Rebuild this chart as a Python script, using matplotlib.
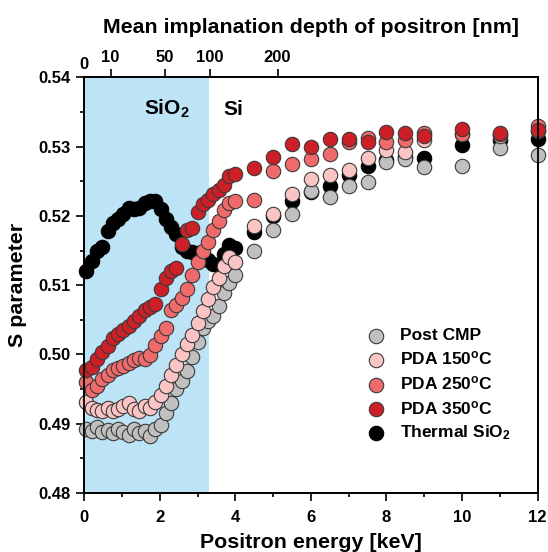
import matplotlib
matplotlib.use("Agg")
import matplotlib.pyplot as plt
import numpy as np

plt.rcParams['font.family'] = ['Liberation Sans', 'DejaVu Sans']
plt.rcParams['font.weight'] = 'bold'
plt.rcParams['mathtext.default'] = 'regular'

# ---------------- data ----------------
energy_low = [0.06, 0.20, 0.34, 0.48, 0.62, 0.76, 0.90, 1.04, 1.18, 1.32, 1.46, 1.60,
              1.74, 1.88, 2.02, 2.16, 2.30, 2.44, 2.58, 2.72, 2.86, 3.00, 3.14, 3.28,
              3.42, 3.56, 3.70, 3.84, 3.98]
energy_high = [4.5, 5.0, 5.5, 6.0, 6.5, 7.0, 7.5, 8.0, 8.5, 9.0, 10.0, 11.0, 12.0]

post_cmp_low = [0.4893, 0.4890, 0.4895, 0.4888, 0.4891, 0.4886, 0.4893, 0.4888, 0.4884, 0.4892,
                0.4886, 0.4890, 0.4882, 0.4893, 0.4898, 0.4915, 0.4930, 0.4950, 0.4962, 0.4976,
                0.4997, 0.5018, 0.5038, 0.5048, 0.5056, 0.5070, 0.5088, 0.5103, 0.5115]
post_cmp_high = [0.5150, 0.5180, 0.5202, 0.5236, 0.5227, 0.5243, 0.5249, 0.5278, 0.5282,
                 0.5271, 0.5272, 0.5298, 0.5288]

pda150_low = [0.4932, 0.4923, 0.4920, 0.4918, 0.4922, 0.4919, 0.4921, 0.4926, 0.4930, 0.4921,
              0.4919, 0.4926, 0.4922, 0.4932, 0.4942, 0.4955, 0.4970, 0.4985, 0.5000, 0.5015,
              0.5028, 0.5045, 0.5062, 0.5080, 0.5097, 0.5110, 0.5127, 0.5140, 0.5133]
pda150_high = [0.5185, 0.5203, 0.5231, 0.5253, 0.5259, 0.5266, 0.5283, 0.5295, 0.5292,
               0.5309, 0.5318, 0.5315, 0.5322]

pda250_low = [0.4960, 0.4948, 0.4955, 0.4965, 0.4971, 0.4977, 0.4980, 0.4983, 0.4987, 0.4992,
              0.4995, 0.4994, 0.4999, 0.5014, 0.5027, 0.5038, 0.5064, 0.5072, 0.5082, 0.5094,
              0.5114, 0.5134, 0.5150, 0.5163, 0.5180, 0.5192, 0.5208, 0.5218, 0.5221]
pda250_high = [0.5223, 0.5265, 0.5275, 0.5282, 0.5290, 0.5307, 0.5313, 0.5306, 0.5310,
               0.5319, 0.5318, 0.5318, 0.5329]

pda350_low = [0.4978, 0.4982, 0.4993, 0.5004, 0.5012, 0.5023, 0.5030, 0.5035, 0.5041, 0.5048,
              0.5056, 0.5064, 0.5069, 0.5073, 0.5094, 0.5110, 0.5121, 0.5125, 0.5160, 0.5180,
              0.5183, 0.5206, 0.5217, 0.5223, 0.5231, 0.5237, 0.5245, 0.5258, 0.5261]
pda350_high = [0.5269, 0.5285, 0.5304, 0.5300, 0.5311, 0.5311, 0.5306, 0.5321, 0.5319,
               0.5315, 0.5325, 0.5320, 0.5324]

thermal_low = [0.5120, 0.5135, 0.5150, 0.5155, 0.5178, 0.5190, 0.5196, 0.5203, 0.5212, 0.5210,
               0.5212, 0.5219, 0.5222, 0.5221, 0.5210, 0.5195, 0.5184, 0.5174, 0.5155, 0.5150,
               0.5148, 0.5147, 0.5145, 0.5137, 0.5131, 0.5129, 0.5145, 0.5158, 0.5153]
thermal_high = [0.5176, 0.5200, 0.5221, 0.5234, 0.5243, 0.5259, 0.5272, 0.5280, 0.5285,
                0.5284, 0.5302, 0.5310, 0.5311]

depth_tick_energy = [0.70, 2.14, 3.32, 5.12]
depth_tick_labels = ['10', '50', '100', '200']
sio2_boundary = 3.3

# ---------------- figure ----------------
fig = plt.figure(figsize=(5.48, 5.52), dpi=100)
ax = fig.add_axes([84.2 / 548, 59 / 552, 453.3 / 548, 415.7 / 552])

ax.axvspan(0, sio2_boundary, color='#bce3f6', lw=0, zorder=0)

series = [
    ('Thermal SiO$_2$', thermal_low + thermal_high, '#000000', '#000000'),
    ('Post CMP', post_cmp_low + post_cmp_high, '#c0c0c0', '#3a3a3a'),
    ('PDA 150$^o$C', pda150_low + pda150_high, '#fbc4c4', '#3a3a3a'),
    ('PDA 250$^o$C', pda250_low + pda250_high, '#ef6a6a', '#3a3a3a'),
    ('PDA 350$^o$C', pda350_low + pda350_high, '#cc1f27', '#3a3a3a'),
]
E = energy_low + energy_high
handles = {}
for i, (lab, vals, fc, ec) in enumerate(series):
    h = ax.scatter(E, vals, s=108, facecolor=fc, edgecolor=ec, linewidth=0.8,
                   zorder=2 + i, label=lab, clip_on=False)
    handles[lab] = h

order = ['Post CMP', 'PDA 150$^o$C', 'PDA 250$^o$C', 'PDA 350$^o$C', 'Thermal SiO$_2$']
leg = ax.legend([handles[k] for k in order], order, loc='upper left',
                bbox_to_anchor=(0.625, 0.397), frameon=False, fontsize=12.5,
                handlelength=1.0, handletextpad=0.85, labelspacing=0.38,
                borderaxespad=0, borderpad=0)

ax.set_xlim(0, 12)
ax.set_ylim(0.48, 0.54)
ax.set_xticks([0, 2, 4, 6, 8, 10, 12])
ax.set_xticks([1, 3, 5, 7, 9, 11], minor=True)
ax.set_yticks([0.48, 0.49, 0.50, 0.51, 0.52, 0.53, 0.54])
ax.set_yticks(np.arange(0.485, 0.54, 0.01), minor=True)
ax.set_yticklabels(['0.48', '0.49', '0.50', '0.51', '0.52', '0.53', '0.54'])
ax.tick_params(axis='both', which='major', direction='out', length=6, width=1.2,
               labelsize=12, pad=4)
ax.tick_params(axis='both', which='minor', direction='out', length=3, width=1.2)
ax.tick_params(axis='x', which='major', pad=6)
for sp in ax.spines.values():
    sp.set_linewidth(1.3)

ax.set_xlabel('Positron energy [keV]', fontsize=15.4, fontweight='bold', labelpad=6)
ax.set_ylabel('S parameter', fontsize=15.4, fontweight='bold', labelpad=8)

ax.text(1.59, 0.5346, 'SiO$_2$', fontsize=15, fontweight='bold', va='baseline')
ax.text(3.69, 0.5346, 'Si', fontsize=15, fontweight='bold', va='baseline')

ax2 = ax.twiny()
ax2.set_xlim(ax.get_xlim())
ax2.set_xticks(depth_tick_energy)
ax2.set_xticklabels(depth_tick_labels)
ax2.tick_params(axis='x', which='major', direction='out', length=6, width=1.2,
                labelsize=12, pad=3)
ax2.annotate('0', xy=(0, 1), xycoords=('data', 'axes fraction'),
             xytext=(-0.5, 4), textcoords='offset points', ha='center', va='bottom',
             fontsize=12, fontweight='bold')
ax2.set_xlabel('Mean implanation depth of positron [nm]', fontsize=15.4,
               fontweight='bold', labelpad=12)
for sp in ax2.spines.values():
    sp.set_linewidth(1.3)

fig.savefig('out.png', dpi=100)
